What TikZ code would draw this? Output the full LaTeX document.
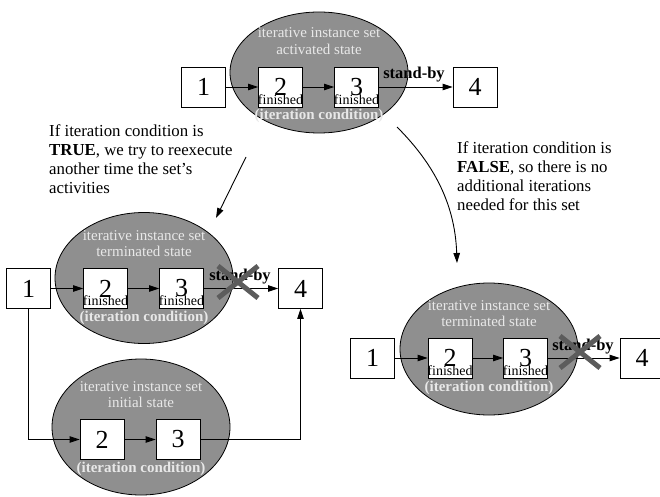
\documentclass[tikz,border=0pt]{standalone}
\usepackage{fontspec}
\setmainfont{Liberation Serif}
\usetikzlibrary{shapes.geometric,arrows.meta}
\definecolor{ellgray}{HTML}{8F8F8F}
\definecolor{lighttxt}{HTML}{E8E8E8}
\definecolor{crossgray}{HTML}{5C5C5C}
\tikzset{
  ell/.style={draw, ellipse, fill=ellgray, line width=0.8pt, inner sep=0pt},
  numbox/.style={draw, fill=white, line width=0.8pt, minimum width=44pt, minimum height=40pt, inner sep=0pt, font=\fontsize{26}{26}\selectfont},
  etext/.style={text=lighttxt, font=\fontsize{15}{16.5}\selectfont, align=center, inner sep=0pt},
  cond/.style={text=lighttxt, font=\bfseries\fontsize{15}{16}\selectfont, inner sep=0pt},
  fin/.style={font=\fontsize{14}{14}\selectfont, inner sep=0pt},
  sb/.style={font=\bfseries\fontsize{16.5}{16}\selectfont, inner sep=0pt},
  conn/.style={line width=0.9pt, -{Triangle[length=10pt,width=6.5pt]}},
  note/.style={font=\fontsize{16.8}{19}\selectfont, align=left, anchor=north west, inner sep=0pt},
  crossline/.style={line width=5pt, crossgray},
}
\begin{document}
\begin{tikzpicture}[x=1pt,y=-1pt]
\useasboundingbox (0,0) rectangle (660,497);
% ---------- top group ----------
\node[ell, minimum width=178pt, minimum height=121pt] (E1) at (319,72.5) {};
\node[etext] (E1t) at (319,41) {iterative instance set\\activated state};
\node[numbox] (a1) at (203.5,87) {1};
\node[numbox] (a2) at (280.5,87) {2};
\node[numbox] (a3) at (356.5,87) {3};
\node[numbox] (a4) at (475,87) {4};
\node[fin] (a2f) at (280.5,100) {finished};
\node[fin] (a3f) at (356.5,100) {finished};
\node[cond] (E1c) at (319,116) {(iteration condition)};
\draw[conn] (a1) -- (a2);
\draw[conn] (a2) -- (a3);
\draw[conn] (a3) -- (a4);
\node[sb] (sb1) at (414,75) {stand-by};
% ---------- notes ----------
\node[note] (n1) at (49,124) {If iteration condition is\\\textbf{TRUE}, we try to reexecute\\another time the set's\\activities};
\node[note] (n2) at (457,141) {If iteration condition is\\\textbf{FALSE}, so there is no\\additional iterations\\needed for this set};
\coordinate (s1) at (246,157);
\coordinate (t1) at (216,218);
\draw[conn] (s1) -- (t1);
\coordinate (s2) at (397,127);
\coordinate (t2) at (457,263);
\draw[conn] (s2) .. controls (430,160) and (455,200) .. (t2);
% ---------- middle-left group ----------
\node[ell, minimum width=178pt, minimum height=131pt] (E2) at (144,278) {};
\node[etext] (E2t) at (144,243.5) {iterative instance set\\terminated state};
\node[numbox] (b1) at (28.5,288.5) {1};
\node[numbox] (b2) at (105.5,288.5) {2};
\node[numbox] (b3) at (181.5,288.5) {3};
\node[numbox] (b4) at (300.5,288.5) {4};
\node[fin] (b2f) at (105.5,301) {finished};
\node[fin] (b3f) at (181.5,301) {finished};
\node[cond] (E2c) at (144,318) {(iteration condition)};
\draw[conn] (b1) -- (b2);
\draw[conn] (b2) -- (b3);
\draw[conn] (b3) -- (b4);
\node[sb] (sb2) at (240,277) {stand-by};
\coordinate (x2) at (238,282);
\draw[crossline] ([shift={(-20,-16)}]x2) -- ([shift={(20,16)}]x2);
\draw[crossline] ([shift={(-20,16)}]x2) -- ([shift={(20,-16)}]x2);
% ---------- bottom group ----------
\node[ell, minimum width=178pt, minimum height=136pt] (E3) at (141,427) {};
\node[etext] (E3t) at (141,394.5) {iterative instance set\\initial state};
\node[numbox] (c2) at (102,439.5) {2};
\node[numbox] (c3) at (178,439.5) {3};
\node[cond] (E3c) at (141,469) {(iteration condition)};
\draw[conn] (b1.south) |- (c2.west);
\draw[conn] (c2) -- (c3);
\draw[conn] (c3.east) -| (b4.south);
% ---------- right group ----------
\node[ell, minimum width=178pt, minimum height=132pt] (E4) at (489,349) {};
\node[etext] (E4t) at (489,313.5) {iterative instance set\\terminated state};
\node[numbox] (d1) at (372.5,358) {1};
\node[numbox] (d2) at (450,358) {2};
\node[numbox] (d3) at (525.5,358) {3};
\node[numbox] (d4) at (642,358) {4};
\node[fin] (d2f) at (450,371) {finished};
\node[fin] (d3f) at (525.5,371) {finished};
\node[cond] (E4c) at (489,388) {(iteration condition)};
\draw[conn] (d1) -- (d2);
\draw[conn] (d2) -- (d3);
\draw[conn] (d3) -- (d4);
\node[sb] (sb3) at (583,347) {stand-by};
\coordinate (x4) at (580,352);
\draw[crossline] ([shift={(-20,-16)}]x4) -- ([shift={(20,16)}]x4);
\draw[crossline] ([shift={(-20,16)}]x4) -- ([shift={(20,-16)}]x4);
\end{tikzpicture}
\end{document}
